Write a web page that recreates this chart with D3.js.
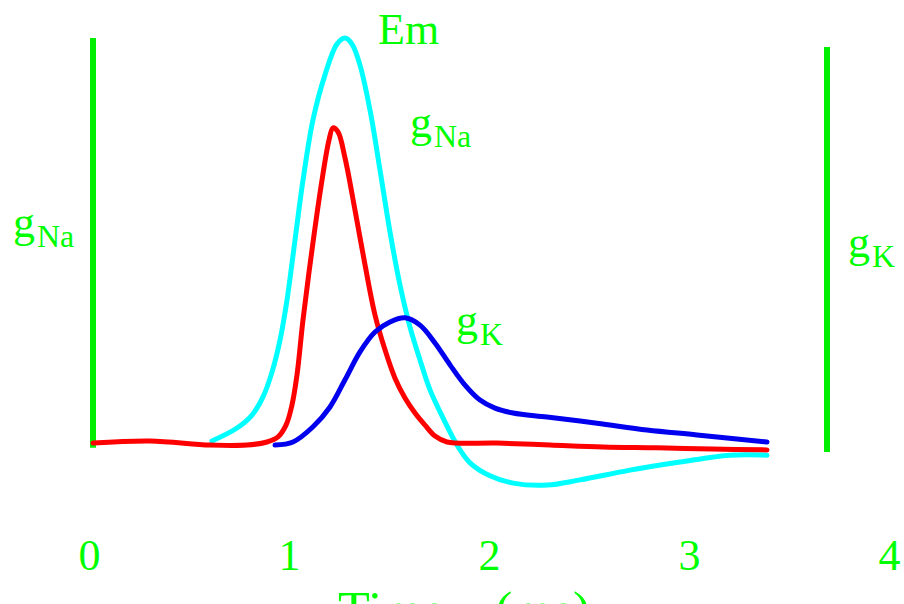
<!DOCTYPE html>
<html><head><meta charset="utf-8">
<script src="https://cdn.jsdelivr.net/npm/d3@7"></script>
<style>
html,body{margin:0;padding:0;background:#fff;overflow:hidden;}
svg{display:block;}
text{font-family:"Liberation Serif","Times New Roman",serif;fill:#00ff00;}
</style></head>
<body>
<script>
// time in ms, values in relative units (0 = rest, 100 = Em peak)
const gNaT = [0.02,0.305,0.605,0.79,0.89,0.945,0.985,1.015,1.04,1.07,1.115,1.165,1.2,1.22,1.245,1.28,1.33,1.38,1.43,1.48,1.53,1.58,1.63,1.68,1.73,1.79,2.04,2.305,2.57,2.84,3.12,3.39];
const gNaV = [0,0.5,-0.5,-0.5,0.25,1.5,4.4,9.4,16.8,30.4,47.7,64.9,74.8,77.8,76.8,70.4,57.5,44,31.6,23,16,11.1,7.4,4.4,1.7,0.25,0,-0.5,-1,-1.2,-1.5,-1.7];

const emT = [0.615,0.74,0.815,0.87,0.915,0.955,0.99,1.03,1.07,1.12,1.18,1.24,1.28,1.315,1.355,1.405,1.455,1.505,1.555,1.605,1.655,1.705,1.77,1.84,1.905,2.005,2.12,2.29,2.455,2.705,2.955,3.205,3.39];
const emV = [0.5,3.7,6.9,11.4,17.5,25.4,35.3,50.1,64.9,79.8,90.9,98.5,100,98.5,93.3,82.2,67.4,52.1,39,28.6,20.5,13.1,6.2,-0.5,-4.9,-8.1,-9.9,-10.4,-9.1,-6.7,-4.7,-3,-3];

const gKT = [0.93,1.02,1.12,1.205,1.28,1.355,1.43,1.505,1.58,1.655,1.73,1.805,1.88,1.955,2.03,2.12,2.29,2.54,2.79,3.04,3.39];
const gKV = [-0.5,0.25,4,8.9,15.6,22.5,27.4,29.9,30.9,29.1,24.7,19.3,14.3,10.6,8.6,7.4,6.4,4.9,3.2,2,0.25];

const tickValues = [0,1,2,3,4];
const tickLabels = ["0","1","2","3","4"];
const xTitle = "Time (ms)";

// scale bars (left: gNa, right: gK)
const barT = [0.02, 3.69];
const barTop = [100, 97.8];
const barBottom = [-1.2, -2.2];

// annotations: main letter, subscript, anchor (t, v)
const annMain = ["Em","g","g","g","g"];
const annSub = ["","Na","K","Na","K"];
const annT = [1.445,1.605,1.835,-0.38,3.795];
const annV = [98.5,75.6,26.6,50.9,45.9];

const W = 904, H = 604;
const x = d3.scaleLinear().domain([0,4]).range([89,889]);
const y = d3.scaleLinear().domain([0,100]).range([443,38]);

const svg = d3.select("body").append("svg").attr("width",W).attr("height",H);

// green bars
svg.selectAll("line.bar").data(barT).enter().append("line")
  .attr("class","bar")
  .attr("x1",d=>x(d)).attr("x2",d=>x(d))
  .attr("y1",(d,i)=>y(barTop[i])).attr("y2",(d,i)=>y(barBottom[i]))
  .attr("stroke","#00ee00").attr("stroke-width",6);

const line = d3.line().x(d=>x(d[0])).y(d=>y(d[1])).curve(d3.curveCatmullRom.alpha(0.5));
const series = [
  {t:emT, v:emV, c:"#00ffff"},
  {t:gNaT, v:gNaV, c:"#ff0000"},
  {t:gKT, v:gKV, c:"#0000ee"}
];
series.forEach(s=>{
  svg.append("path").datum(s.t.map((t,i)=>[t,s.v[i]]))
    .attr("d",line).attr("fill","none").attr("stroke",s.c)
    .attr("stroke-width",5).attr("stroke-linejoin","round").attr("stroke-linecap","round");
});

// axis
const axis = d3.axisBottom(x).tickValues(tickValues).tickFormat((d,i)=>tickLabels[i]).tickSize(0).tickPadding(0);
const ag = svg.append("g").attr("transform","translate(0,539)").call(axis);
ag.select(".domain").remove();
ag.selectAll("text").attr("font-size",44).attr("font-family","Liberation Serif").attr("fill","#00ff00").attr("dy","0.71em");

svg.append("text").attr("x",338).attr("y",628).attr("font-size",52)
  .attr("word-spacing",36).text(xTitle);

// annotations
annMain.forEach((m,i)=>{
  const t = svg.append("text").attr("x",x(annT[i])).attr("y",y(annV[i])).attr("font-size",44);
  t.append("tspan").text(m);
  if(annSub[i]) t.append("tspan").attr("font-size",32).attr("dy",10).attr("dx",2).text(annSub[i]);
});
</script>
</body></html>
